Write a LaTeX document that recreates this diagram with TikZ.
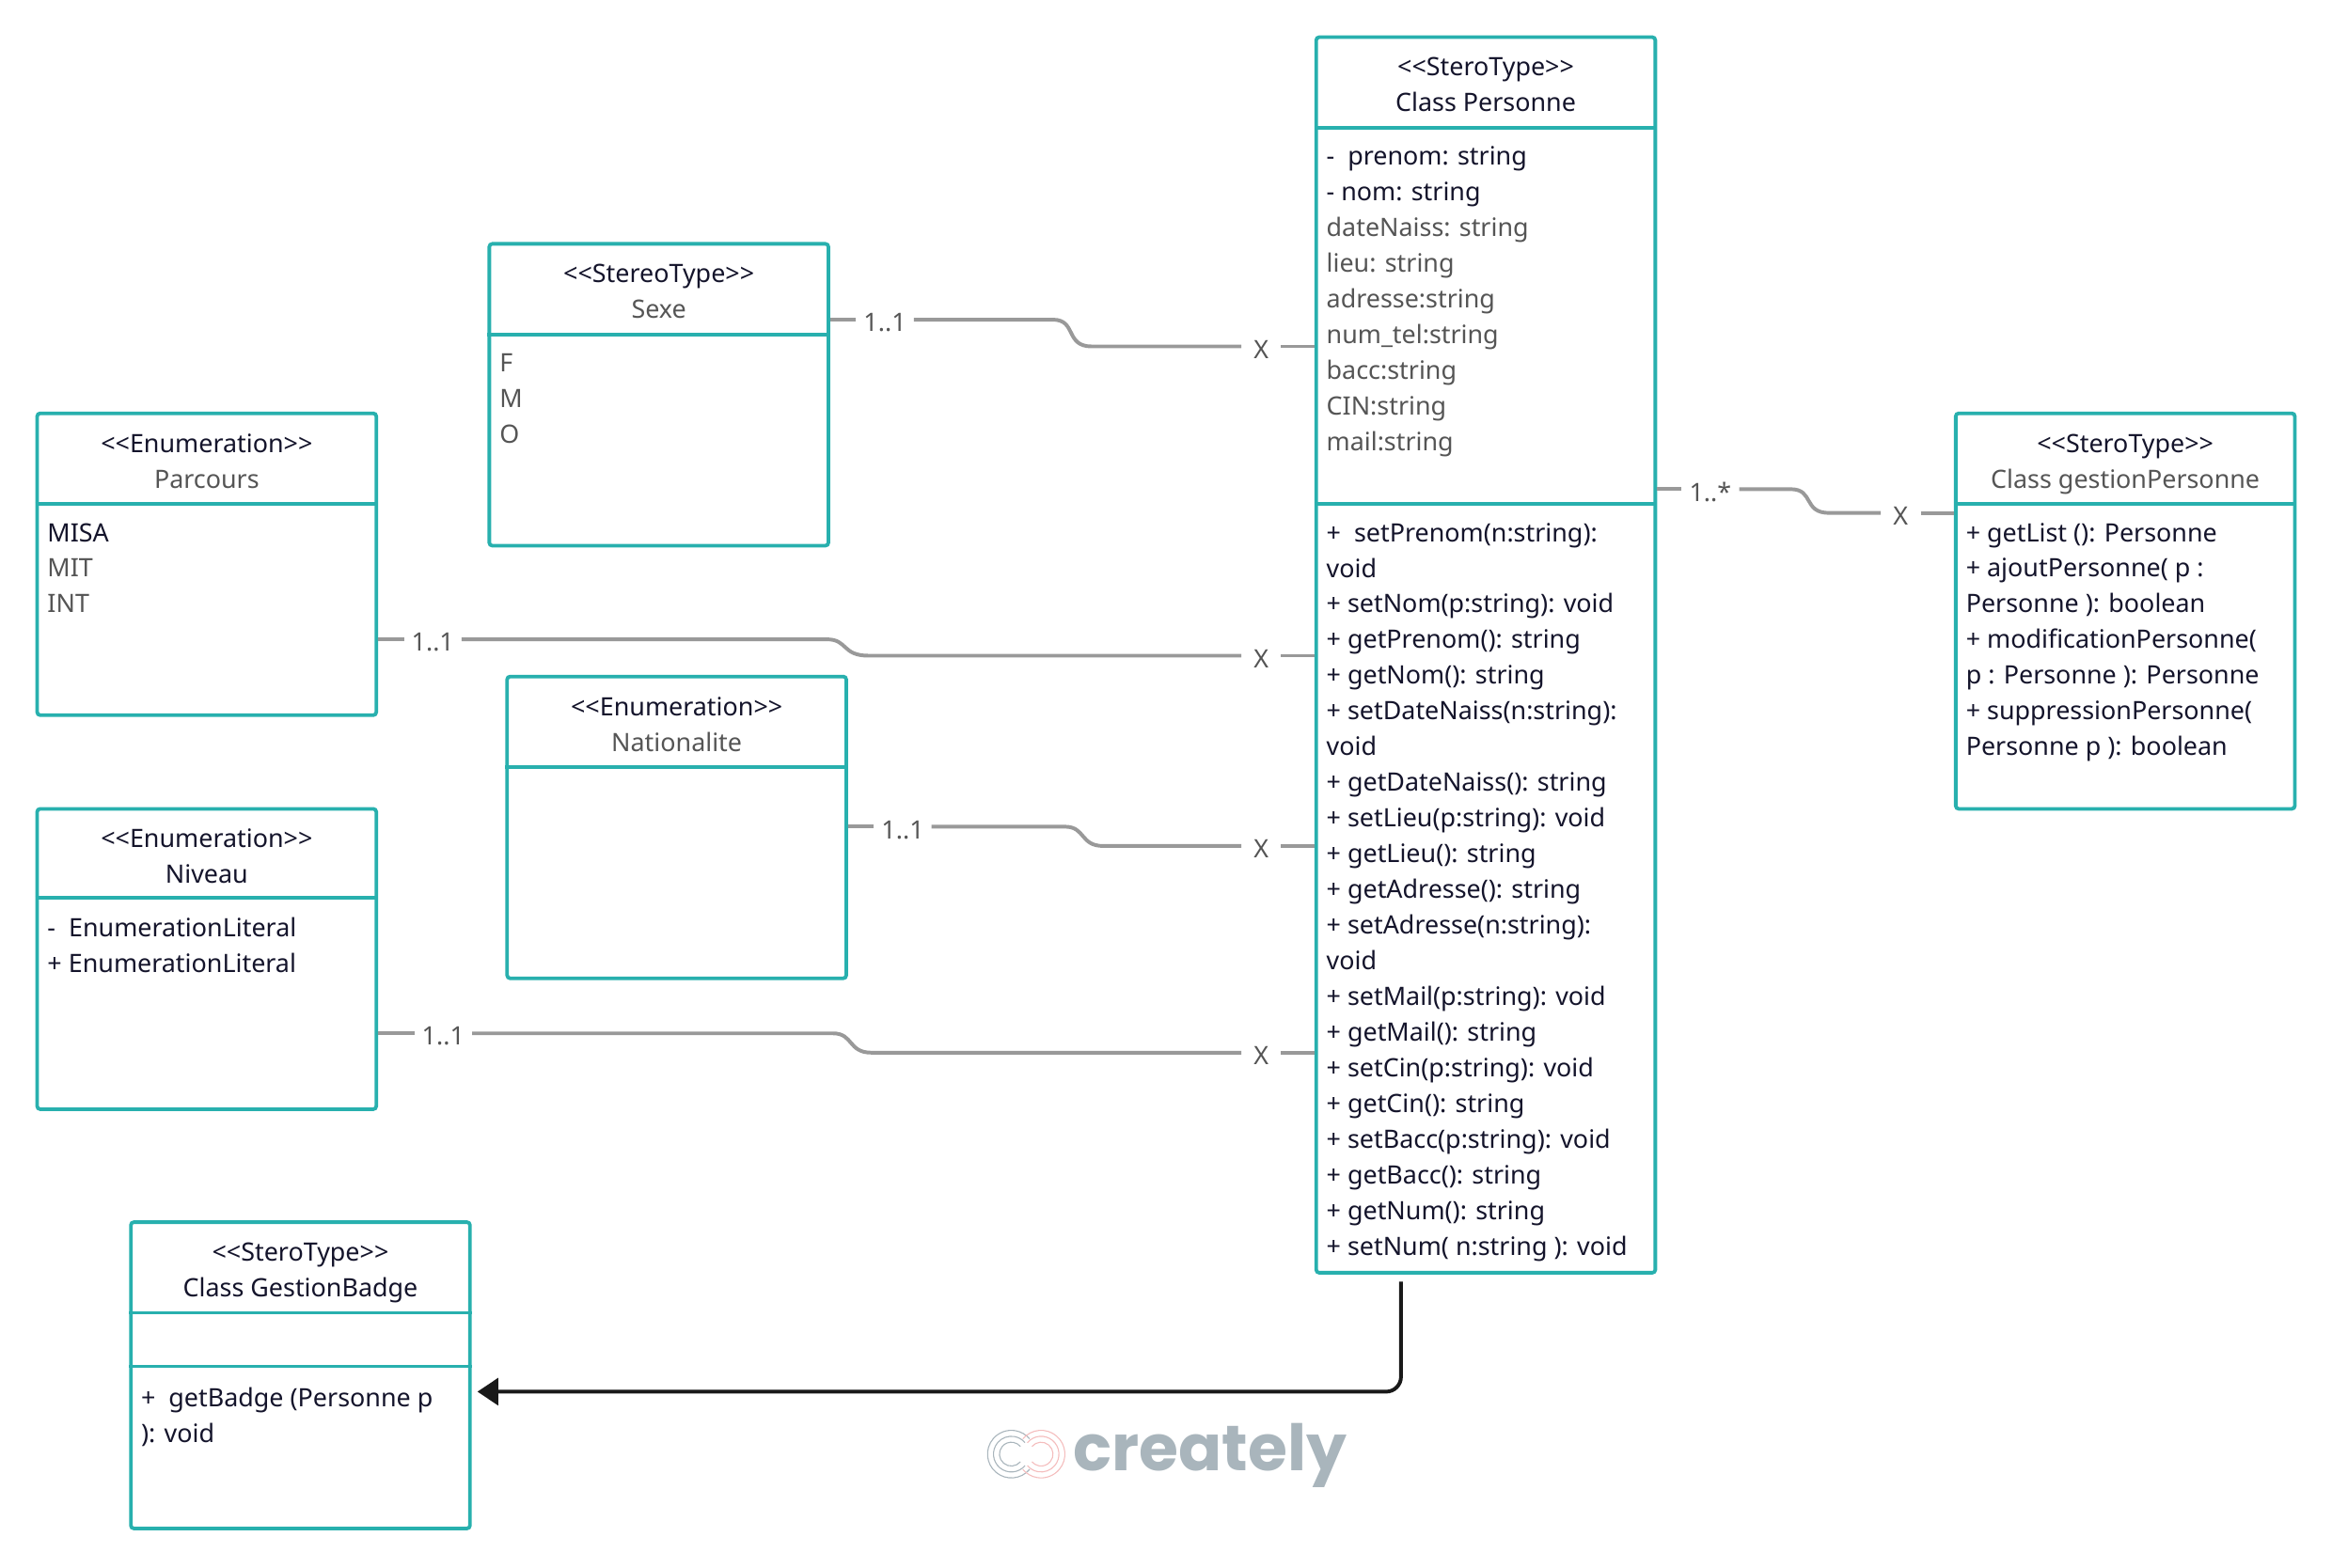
\documentclass[tikz,border=0pt]{standalone}
\usepackage{fontspec}
\setmainfont{Noto Sans}
\newfontfamily\logofont{Poppins}
\usepackage{xcolor}
\usetikzlibrary{calc}
\usetikzlibrary{arrows.meta}
\definecolor{classteal}{HTML}{28B0AE}
\definecolor{assocgray}{HTML}{999999}
\definecolor{txtdark}{HTML}{14142B}
\definecolor{txtgray}{HTML}{555555}
\definecolor{logogray}{HTML}{A9B5BC}
\definecolor{logopink}{HTML}{F4BDBD}
\newcommand{\gr}[1]{{\color{txtgray}#1}}
\tikzset{
  classbox/.style={draw=classteal,line width=1.2pt,rounded corners=1pt,minimum width=114pt,inner sep=0pt,fill=white},
  divider/.style={draw=classteal,line width=1.2pt},
  headtext/.style={align=center,inner sep=0pt,anchor=north,text=txtdark,font=\fontsize{8.5}{12}\selectfont},
  listtext/.style={align=left,inner sep=0pt,anchor=north west,text=txtdark,font=\fontsize{8.5}{12}\selectfont},
  assoc/.style={draw=assocgray,line width=1.25pt},
  multlabel/.style={inner sep=0pt,minimum width=19pt,text height=8pt,text depth=0pt,text=txtgray,font=\fontsize{8.5}{12}\selectfont},
  xlabel/.style={inner sep=0pt,minimum width=13pt,text height=8pt,text depth=0pt,text=txtgray,font=\fontsize{8.5}{12}\selectfont},
}
\begin{document}
\begin{tikzpicture}[x=0.5pt,y=-0.5pt]
\useasboundingbox (0,0) rectangle (1568,1054);
% Class boxes
\node[classbox,minimum height=415.5pt] (personne) at (999,440.5) {};
\node[classbox,minimum height=101.5pt] (sexe) at (443,265.5) {};
\node[classbox,minimum height=101.5pt] (parcours) at (139,379.5) {};
\node[classbox,minimum height=101.5pt] (nationalite) at (455,556.5) {};
\node[classbox,minimum height=101pt] (niveau) at (139,645) {};
\node[classbox,minimum height=103pt] (badge) at (202,925) {};
\node[classbox,minimum height=133pt] (gestion) at (1429,411) {};

\draw[divider] (personne.west |- 0,86) -- (personne.east |- 0,86);
\draw[divider] (personne.west |- 0,339) -- (personne.east |- 0,339);
\draw[divider] (sexe.west |- 0,225) -- (sexe.east |- 0,225);
\draw[divider] (parcours.west |- 0,339) -- (parcours.east |- 0,339);
\draw[divider] (nationalite.west |- 0,516) -- (nationalite.east |- 0,516);
\draw[divider] (niveau.west |- 0,604) -- (niveau.east |- 0,604);
\draw[divider] (badge.west |- 0,883) -- (badge.east |- 0,883);
\draw[divider] (badge.west |- 0,919) -- (badge.east |- 0,919);
\draw[divider] (gestion.west |- 0,339) -- (gestion.east |- 0,339);

% Headers
\node[headtext] (personneHead) at (999,34) {\strut<{}<SteroType>{}>\\Class Personne};
\node[headtext] (sexeHead) at (443,173) {\strut<{}<StereoType>{}>\\\gr{Sexe}};
\node[headtext] (parcoursHead) at (139,287) {\strut<{}<Enumeration>{}>\\\gr{Parcours}};
\node[headtext] (nationaliteHead) at (455,464) {\strut<{}<Enumeration>{}>\\\gr{Nationalite}};
\node[headtext] (niveauHead) at (139,553) {\strut<{}<Enumeration>{}>\\Niveau};
\node[headtext] (badgeHead) at (202,831) {\strut<{}<SteroType>{}>\\Class GestionBadge};
\node[headtext] (gestionHead) at (1429,287) {\strut<{}<SteroType>{}>\\\gr{Class gestionPersonne}};

% Attributes and methods
\node[listtext] (personneAttr) at (891.5,94) {\strut-\ \ prenom: string\\- nom: string\\\gr{dateNaiss: string}\\\gr{lieu: string}\\\gr{adresse:string}\\\gr{num\_tel:string}\\\gr{bacc:string}\\\gr{CIN:string}\\\gr{mail:string}};
\node[listtext] (personneOps) at (891.5,347) {\strut+\ \ setPrenom(n:string):\\void\\+ setNom(p:string): void\\+ getPrenom(): string\\+ getNom(): string\\+ setDateNaiss(n:string):\\void\\+ getDateNaiss(): string\\+ setLieu(p:string): void\\+ getLieu(): string\\+ getAdresse(): string\\+ setAdresse(n:string):\\void\\+ setMail(p:string): void\\+ getMail(): string\\+ setCin(p:string): void\\+ getCin(): string\\+ setBacc(p:string): void\\+ getBacc(): string\\+ getNum(): string\\+ setNum( n:string ): void};
\node[listtext] (sexeList) at (335.5,233) {\strut\gr{F}\\\gr{M}\\\gr{O}};
\node[listtext] (parcoursList) at (31.5,347) {\strut MISA\\\gr{MIT}\\\gr{INT}};
\node[listtext] (niveauList) at (31.5,613) {\strut-\ \ EnumerationLiteral\\+ EnumerationLiteral};
\node[listtext] (badgeOps) at (94.5,929) {\strut+\ \ getBadge (Personne p\\): void};
\node[listtext] (gestionOps) at (1321.5,347) {\strut+ getList (): Personne\\+ ajoutPersonne( p :\\Personne ): boolean\\+ modificationPersonne(\\p : Personne ): Personne\\+ suppressionPersonne(\\Personne p ): boolean};

% Multiplicities
\node[multlabel] (sexeMult) at (595,215) {1..1};
\node[xlabel] (sexeX) at (848,233) {X};
\node[multlabel] (parcoursMult) at (291,430) {1..1};
\node[xlabel] (parcoursX) at (848,441) {X};
\node[multlabel] (nationaliteMult) at (607,556) {1..1};
\node[xlabel] (nationaliteX) at (848,569) {X};
\node[multlabel] (niveauMult) at (298,695) {1..1};
\node[xlabel] (niveauX) at (848,708) {X};
\node[multlabel] (gestionMult) at (1150,329) {1..*};
\node[xlabel] (gestionX) at (1278,345) {X};

% Associations
\draw[assoc] (sexe.east |- sexeMult.west) -- (sexeMult.west);
\draw[assoc] (sexeMult.east) -- (708,215) .. controls (724,215) and (716,233) .. (734,233) -- (sexeX.west);
\draw[assoc] (sexeX.east) -- (personne.west |- sexeX.east);

\draw[assoc] (parcours.east |- parcoursMult.west) -- (parcoursMult.west);
\draw[assoc] (parcoursMult.east) -- (556,430) .. controls (570,430) and (566,441) .. (584,441) -- (parcoursX.west);
\draw[assoc] (parcoursX.east) -- (personne.west |- parcoursX.east);

\draw[assoc] (nationalite.east |- nationaliteMult.west) -- (nationaliteMult.west);
\draw[assoc] (nationaliteMult.east) -- (716,556) .. controls (730,556) and (726,569) .. (742,569) -- (nationaliteX.west);
\draw[assoc] (nationaliteX.east) -- (personne.west |- nationaliteX.east);

\draw[assoc] (niveau.east |- niveauMult.west) -- (niveauMult.west);
\draw[assoc] (niveauMult.east) -- (560,695) .. controls (574,695) and (570,708) .. (586,708) -- (niveauX.west);
\draw[assoc] (niveauX.east) -- (personne.west |- niveauX.east);

\draw[assoc] (personne.east |- gestionMult.west) -- (gestionMult.west);
\draw[assoc] (gestionMult.east) -- (1204,329) .. controls (1220,329) and (1212,345) .. (1230,345) -- (gestionX.west);
\draw[assoc] (gestionX.east) -- (gestion.west |- gestionX.east);

% Dependency arrow
\coordinate (personneOut) at (942,862);
\coordinate (badgeIn) at (321,936);
\draw[-{Triangle[length=7pt,width=9pt]},line width=1.25pt,draw=black!90,rounded corners=5pt] (personneOut) |- (badgeIn);

% Logo
\node[inner sep=0pt,text=logogray,font=\logofont\fontsize{21.5}{24}\bfseries\selectfont] (logo) at (813.5,979) {creately};
\foreach \r in {8,12,16}{
  \draw[logogray,line width=0.35pt] (680,978) ++(40:\r) arc[start angle=40,end angle=320,radius=\r];
  \draw[logopink,line width=0.35pt] (700,978) ++(220:\r) arc[start angle=220,end angle=500,radius=\r];
}
\end{tikzpicture}
\end{document}
